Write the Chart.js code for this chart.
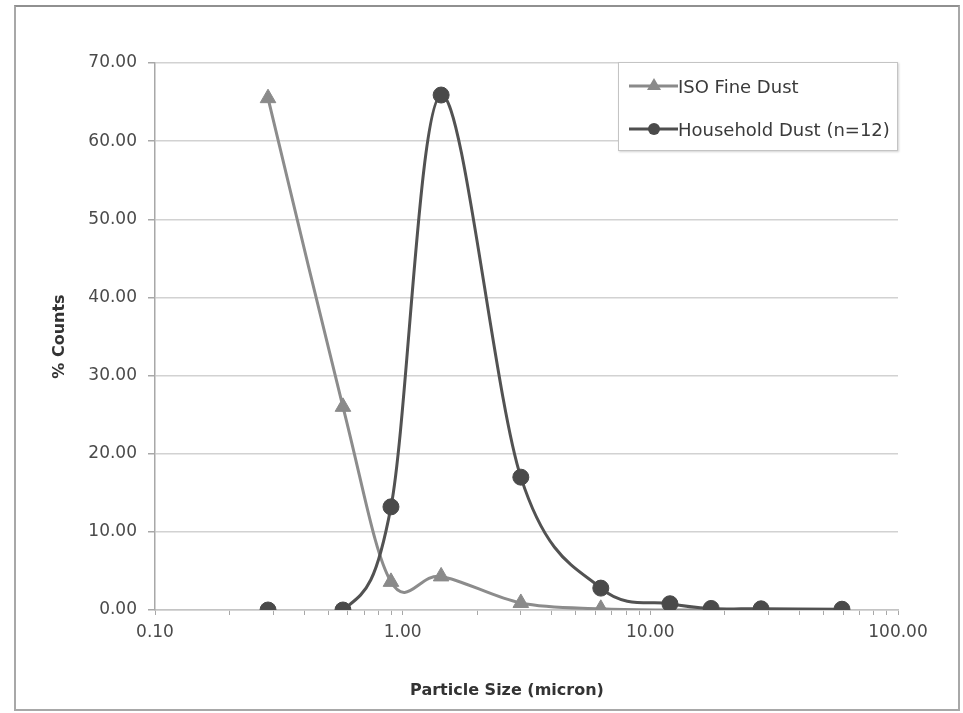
<!DOCTYPE html>
<html>
<head>
<meta charset="utf-8">
<script src="https://cdn.jsdelivr.net/npm/chart.js@4"></script>
<style>
  html, body { margin: 0; padding: 0; background: #ffffff; }
  #wrap { position: relative; width: 963px; height: 713px; overflow: hidden; font-family: "DejaVu Sans", sans-serif; }
  #c { position: absolute; left: 0; top: 0; }
  #frame { position: absolute; left: 14px; top: 5px; width: 942px; height: 702px; border: 2px solid #a8a8a8; border-top-color: #909090; pointer-events: none; }
  #legend { position: absolute; left: 618px; top: 62px; width: 278px; height: 87px; border: 1px solid #c4c4c4; box-shadow: 1px 1px 2px rgba(0,0,0,0.18); background: #fff; }
  .row { position: absolute; left: 10px; height: 24px; display: flex; align-items: center; font-size: 18px; color: #3a3a3a; white-space: nowrap; }
  #xtitle { position: absolute; left: 507px; top: 680px; transform: translateX(-50%); font-weight: bold; font-size: 16px; color: #333; white-space: nowrap; }
</style>
</head>
<body>
<div id="wrap">
  <canvas id="c" width="963" height="713"></canvas>
  <div id="frame"></div>
  <div id="legend">
    <div class="row" style="top:11px;">
      <svg width="49" height="20" viewBox="0 0 49 20"><line x1="0" y1="10" x2="49" y2="10" stroke="#8a8a8a" stroke-width="3"/><polygon points="25,2 32,14 18,14" fill="#8a8a8a"/></svg><span>ISO Fine Dust</span>
    </div>
    <div class="row" style="top:54px;">
      <svg width="49" height="20" viewBox="0 0 49 20"><line x1="0" y1="10" x2="49" y2="10" stroke="#4f4f4f" stroke-width="3"/><circle cx="25" cy="10" r="6" fill="#4a4a4a"/></svg><span>Household Dust (n=12)</span>
    </div>
  </div>
  <div id="xtitle">Particle Size (micron)</div>
</div>
<script>
// Particle size bins (micron)
const particleSizes = [0.286, 0.574, 0.897, 1.43, 3.0, 6.31, 12.0, 17.6, 28.0, 59.4];
// % counts
const isoFineDust   = [65.5, 26.0, 3.6, 4.3, 0.9, 0.15, 0.0, 0.0, 0.0, 0.0];
const householdDust = [0.0, 0.0, 13.2, 65.9, 17.0, 2.8, 0.8, 0.2, 0.15, 0.1];
// axis ticks
const xTickValues = [0.1,0.2,0.3,0.4,0.5,0.6,0.7,0.8,0.9,
                     1,2,3,4,5,6,7,8,9,
                     10,20,30,40,50,60,70,80,90,100];
const xMajorTicks = [0.1, 1, 10, 100];
const yTickValues = [0, 10, 20, 30, 40, 50, 60, 70];

const seriesNames = ['ISO Fine Dust', 'Household Dust (n=12)'];

function toPoints(xs, ys) { return xs.map((x, i) => ({ x: x, y: ys[i] })); }

const FONT = '"DejaVu Sans", sans-serif';

// Spreadsheet-style smoothing: uniform Catmull-Rom control points computed
// from the pixel positions that Chart.js has placed the points at.
const smoothLines = {
  id: 'smoothLines',
  beforeDatasetDraw(chart, args) {
    const meta = args.meta;
    const pts = meta.data;
    const area = chart.chartArea;
    const clampY = v => Math.max(area.top, Math.min(area.bottom, v));
    for (let i = 0; i < pts.length; i++) {
      const p = pts[i];
      const prev = pts[i - 1] || p;
      const next = pts[i + 1] || p;
      const dx = (next.x - prev.x) / 6;
      const dy = (next.y - prev.y) / 6;
      p.cp1x = p.x - dx; p.cp1y = clampY(p.y - dy);
      p.cp2x = p.x + dx; p.cp2y = clampY(p.y + dy);
    }
    if (meta.dataset) meta.dataset._pointsUpdated = true;
  }
};

new Chart(document.getElementById('c'), {
  type: 'line',
  plugins: [smoothLines],
  data: {
    datasets: [
      {
        label: seriesNames[0],
        data: toPoints(particleSizes, isoFineDust),
        borderColor: '#8c8c8c',
        backgroundColor: '#8a8a8a',
        pointBackgroundColor: '#8a8a8a',
        pointBorderColor: '#8a8a8a',
        pointStyle: 'triangle',
        pointRadius: 9,
        pointBorderWidth: 1,
        borderWidth: 3,
        tension: 0.3,
        fill: false,
        order: 2
      },
      {
        label: seriesNames[1],
        data: toPoints(particleSizes, householdDust),
        borderColor: '#525252',
        backgroundColor: '#4a4a4a',
        pointBackgroundColor: '#4a4a4a',
        pointBorderColor: '#4a4a4a',
        pointStyle: 'circle',
        pointRadius: 8,
        pointBorderWidth: 1,
        borderWidth: 3,
        tension: 0.3,
        fill: false,
        order: 1,
        segment: {
          borderColor: ctx => ctx.p0DataIndex === 0 ? 'rgba(0,0,0,0)' : undefined
        }
      }
    ]
  },
  options: {
    responsive: false,
    animation: false,
    layout: { padding: { top: 63, right: 65, left: 0, bottom: 0 } },
    plugins: {
      legend: { display: false },
      tooltip: { enabled: false },
      title: { display: false }
    },
    scales: {
      x: {
        type: 'logarithmic',
        min: 0.1,
        max: 100,
        afterFit: s => { s.height = 103; },
        afterBuildTicks: s => { s.ticks = xTickValues.map(v => ({ value: v, major: xMajorTicks.includes(v) })); },
        ticks: {
          autoSkip: false,
          maxRotation: 0,
          minRotation: 0,
          padding: 7,
          color: '#4a4a4a',
          font: { family: FONT, size: 17 },
          callback: (v, i, ticks) => xMajorTicks.includes(ticks[i].value) ? ticks[i].value.toFixed(2) : ''
        },
        grid: {
          drawOnChartArea: false,
          drawTicks: true,
          tickLength: 5,
          color: '#a8a8a8',
          lineWidth: 1
        },
        border: { display: true, color: '#c4c4c4', width: 1.5 },
        title: { display: false }
      },
      y: {
        type: 'linear',
        min: 0,
        max: 70,
        afterFit: s => { s.width = 155; },
        afterBuildTicks: s => { s.ticks = yTickValues.map(v => ({ value: v })); },
        ticks: {
          padding: 11,
          color: '#4a4a4a',
          font: { family: FONT, size: 17 },
          callback: v => Number(v).toFixed(2)
        },
        grid: {
          color: '#d2d2d2',
          lineWidth: 1.5,
          drawTicks: true,
          tickLength: 7,
          tickColor: '#a8a8a8'
        },
        border: { display: true, color: '#a8a8a8', width: 1.5 },
        title: {
          display: true,
          text: '% Counts',
          color: '#333',
          font: { family: FONT, size: 16, weight: 'bold' },
          padding: { top: 50, bottom: 0 }
        }
      }
    }
  }
});
</script>
</body>
</html>
